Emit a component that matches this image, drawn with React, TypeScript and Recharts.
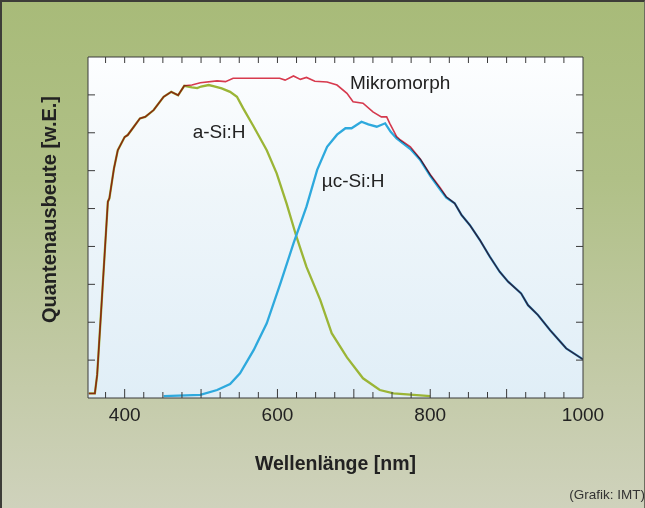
import React from 'react';
import { LineChart, Line, XAxis, YAxis, CartesianGrid, ReferenceDot } from 'recharts';

// ---- axis ticks ----
const xTicks = [375, 400, 425, 450, 475, 500, 525, 550, 575, 600, 625, 650, 675, 700, 725, 750, 775, 800, 825, 850, 875, 900, 925, 950, 975, 1000];
const xLabels = [400, 600, 800, 1000];
const yTicks = [1, 2, 3, 4, 5, 6, 7, 8];

// ---- Mikromorph (tandem) ----
const mikroNm = [353, 361, 364, 370.5, 378, 380, 386, 391, 400, 404, 412, 420, 427, 438, 451, 461, 470, 478, 488, 499, 521, 532, 542, 564, 586, 603, 610, 621, 630, 638, 649, 665, 678, 691, 699, 712, 725, 736, 743, 747, 756, 761, 774, 787, 800, 813, 821, 832, 841, 852, 865, 878, 891, 902, 919, 928, 941, 957, 978, 1000];
const mikroQE = [0.12, 0.12, 0.61, 2.72, 5.18, 5.27, 6.06, 6.54, 6.89, 6.94, 7.16, 7.38, 7.42, 7.6, 7.95, 8.08, 7.99, 8.24, 8.26, 8.32, 8.37, 8.35, 8.44, 8.44, 8.44, 8.44, 8.39, 8.5, 8.41, 8.46, 8.36, 8.34, 8.26, 8.04, 7.82, 7.78, 7.55, 7.42, 7.42, 7.25, 6.9, 6.81, 6.63, 6.31, 5.9, 5.55, 5.31, 5.14, 4.83, 4.56, 4.17, 3.73, 3.33, 3.07, 2.76, 2.45, 2.19, 1.79, 1.31, 1.02];

// ---- a-Si:H ----
const asiNm = [353, 361, 364, 370.5, 378, 380, 386, 391, 400, 404, 412, 420, 427, 438, 451, 461, 470, 478, 488, 495, 500, 510, 516, 527, 538, 547, 555, 569, 586, 599, 612, 625, 638, 656, 671, 691, 712, 734, 752, 800];
const asiQE = [0.12, 0.12, 0.61, 2.72, 5.18, 5.27, 6.06, 6.54, 6.89, 6.94, 7.16, 7.38, 7.42, 7.6, 7.95, 8.08, 7.99, 8.24, 8.2, 8.18, 8.22, 8.26, 8.23, 8.17, 8.08, 7.95, 7.65, 7.16, 6.54, 5.93, 5.13, 4.25, 3.46, 2.59, 1.71, 1.07, 0.52, 0.21, 0.12, 0.05];

// ---- µc-Si:H ----
const ucNm = [451, 499, 521, 538, 551, 569, 586, 604, 621, 638, 652, 665, 678, 689, 697, 710, 719, 730, 741, 748, 756, 774, 787, 800, 813, 821, 832, 841, 852, 865, 878, 891, 902, 919, 928, 941, 957, 978, 1000];
const ucQE = [0.05, 0.08, 0.21, 0.37, 0.65, 1.27, 1.97, 3.03, 4.08, 5.05, 6.02, 6.63, 6.95, 7.12, 7.12, 7.29, 7.22, 7.16, 7.25, 7.03, 6.85, 6.57, 6.28, 5.86, 5.5, 5.29, 5.14, 4.83, 4.56, 4.17, 3.73, 3.33, 3.07, 2.76, 2.45, 2.19, 1.79, 1.31, 1.02];

const toRows = (nm: number[], qe: number[]) => nm.map((x, i) => ({ nm: x, qe: qe[i] }));
const mikroData = toRows(mikroNm, mikroQE);
const asiData = toRows(asiNm, asiQE);
const ucData = toRows(ucNm, ucQE);

const FONT = '"Liberation Sans", Arial, Helvetica, sans-serif';
const INK = '#222';
const AXIS = '#3a3a3a';

const BottomTick = (p: any) => {
  const v = p.payload.value;
  const major = v % 100 === 0;
  return (
    <g>
      {v < 1000 && <line x1={p.x} x2={p.x} y1={p.y} y2={p.y - (major ? 9 : 6)} stroke={AXIS} strokeWidth={1} />}
      {xLabels.includes(v) && (
        <text x={p.x} y={p.y + 23} textAnchor="middle" fontFamily={FONT} fontSize={19} fill={INK}>
          {v}
        </text>
      )}
    </g>
  );
};

const TopTick = (p: any) => {
  const v = p.payload.value;
  if (v >= 1000) return <g />;
  return <line x1={p.x} x2={p.x} y1={p.y} y2={p.y + 6} stroke={AXIS} strokeWidth={1} />;
};

const LeftTick = (p: any) => <line x1={p.x} x2={p.x + 7} y1={p.y} y2={p.y} stroke={AXIS} strokeWidth={1} />;
const RightTick = (p: any) => <line x1={p.x} x2={p.x - 7} y1={p.y} y2={p.y} stroke={AXIS} strokeWidth={1} />;

const curveLabel = (text: string) => (props: any) => {
  const vb = props.viewBox || {};
  return (
    <text x={vb.x} y={vb.y} fontFamily={FONT} fontSize={19} fill={INK}>
      {text}
    </text>
  );
};

export default function App() {
  return (
    <div
      style={{
        position: 'absolute',
        left: 0,
        top: 0,
        width: 645,
        height: 508,
        overflow: 'hidden',
        background: 'linear-gradient(180deg, #a8bb79 0%, #b0c087 35%, #c1c9a4 70%, #cfd2bc 100%)',
        boxSizing: 'border-box',
        borderTop: '2px solid #3d3d38',
        borderLeft: '2px solid #3d3d38',
        borderRight: '1px solid #6d6d60',
      }}
    >
      <style>{`.mk { mix-blend-mode: multiply; }`}</style>
      <div style={{ position: 'absolute', left: -2, top: -2 }}>
        <LineChart width={645} height={508} margin={{ top: 56, right: 61, bottom: 0, left: 87 }}>
          <defs>
            <linearGradient id="plotBg" x1="0" y1="0" x2="0" y2="1">
              <stop offset="0%" stopColor="#fdfeff" />
              <stop offset="40%" stopColor="#eff6fa" />
              <stop offset="100%" stopColor="#e0eef7" />
            </linearGradient>
          </defs>
          <CartesianGrid horizontal={false} vertical={false} fill="url(#plotBg)" />
          <XAxis
            dataKey="nm"
            type="number"
            domain={[352, 1000]}
            allowDataOverflow
            ticks={xTicks}
            interval={0}
            height={110}
            tickSize={0}
            tickMargin={0}
            tickLine={false}
            axisLine={{ stroke: AXIS, strokeWidth: 1 }}
            tick={<BottomTick />}
            label={{
              content: (props: any) => {
                const vb = props.viewBox;
                return (
                  <text
                    x={vb.x + vb.width / 2}
                    y={vb.y + 71.5}
                    textAnchor="middle"
                    fontFamily={FONT}
                    fontSize={19.5}
                    fontWeight="bold"
                    fill={INK}
                  >
                    Wellenlänge [nm]
                  </text>
                );
              },
            }}
          />
          <XAxis
            xAxisId="top"
            orientation="top"
            dataKey="nm"
            type="number"
            domain={[352, 1000]}
            allowDataOverflow
            ticks={xTicks}
            interval={0}
            height={1}
            tickSize={0}
            tickMargin={0}
            tickLine={false}
            axisLine={{ stroke: AXIS, strokeWidth: 1 }}
            tick={<TopTick />}
          />
          <YAxis
            type="number"
            domain={[0, 9]}
            allowDataOverflow
            ticks={yTicks}
            interval={0}
            width={1}
            tickSize={0}
            tickMargin={0}
            tickLine={false}
            axisLine={{ stroke: AXIS, strokeWidth: 1 }}
            tick={<LeftTick />}
            label={{
              content: (props: any) => {
                const vb = props.viewBox;
                const cx = vb.x + vb.width - 39.5;
                const cy = vb.y + vb.height / 2 - 18;
                return (
                  <text
                    x={cx}
                    y={cy}
                    transform={`rotate(-90 ${cx} ${cy})`}
                    textAnchor="middle"
                    dominantBaseline="central"
                    fontFamily={FONT}
                    fontSize={20}
                    fontWeight="bold"
                    fill={INK}
                  >
                    Quantenausbeute [w.E.]
                  </text>
                );
              },
            }}
          />
          <YAxis
            yAxisId="r"
            orientation="right"
            type="number"
            domain={[0, 9]}
            allowDataOverflow
            ticks={yTicks}
            interval={0}
            width={1}
            tickSize={0}
            tickMargin={0}
            tickLine={false}
            axisLine={{ stroke: AXIS, strokeWidth: 1 }}
            tick={<RightTick />}
          />
          <Line
            data={asiData}
            dataKey="qe"
            type="linear"
            stroke="#9bb536"
            strokeWidth={2.3}
            dot={false}
            activeDot={false}
            isAnimationActive={false}
          />
          <Line
            data={ucData}
            dataKey="qe"
            type="linear"
            stroke="#2ea9dd"
            strokeWidth={2.3}
            dot={false}
            activeDot={false}
            isAnimationActive={false}
          />
          <Line
            data={mikroData}
            dataKey="qe"
            type="linear"
            className="mk"
            stroke="#dc3a4e"
            strokeWidth={1.6}
            dot={false}
            activeDot={false}
            isAnimationActive={false}
          />
          <ReferenceDot x={695} y={8.145} r={0} fill="none" stroke="none" label={{ content: curveLabel('Mikromorph') }} />
          <ReferenceDot x={489} y={6.86} r={0} fill="none" stroke="none" label={{ content: curveLabel('a-Si:H') }} />
          <ReferenceDot x={658} y={5.57} r={0} fill="none" stroke="none" label={{ content: curveLabel('µc-Si:H') }} />
          <text x={645} y={499} textAnchor="end" fontFamily={FONT} fontSize={13.5} fill="#333">
            (Grafik: IMT)
          </text>
        </LineChart>
      </div>
    </div>
  );
}
